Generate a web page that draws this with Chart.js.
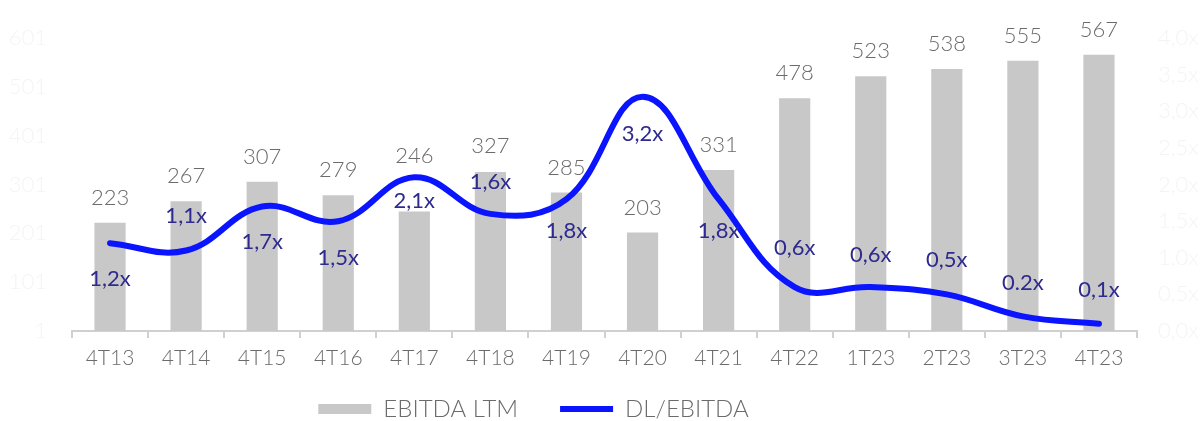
<!DOCTYPE html>
<html>
<head>
<meta charset="utf-8">
<script src="https://cdn.jsdelivr.net/npm/chart.js@4.4.1/dist/chart.umd.min.js"></script>
<style>
  html, body { margin: 0; padding: 0; background: #ffffff; }
  #wrap { width: 1203px; height: 421px; position: relative; }
</style>
</head>
<body>
<div id="wrap"><canvas id="c" width="1203" height="421"></canvas></div>
<script>
// ---- data ----
const categories = ['4T13','4T14','4T15','4T16','4T17','4T18','4T19','4T20','4T21','4T22','1T23','2T23','3T23','4T23'];
const ebitdaLTM = [223, 267, 307, 279, 246, 327, 285, 203, 331, 478, 523, 538, 555, 567];
const dlEbitda = [1.2, 1.1, 1.7, 1.5, 2.1, 1.6, 1.8, 3.2, 1.8, 0.6, 0.6, 0.5, 0.2, 0.1];
const dlEbitdaLabels = ['1,2x','1,1x','1,7x','1,5x','2,1x','1,6x','1,8x','3,2x','1,8x','0,6x','0,6x','0,5x','0.2x','0,1x'];
const leftTicks = [1, 101, 201, 301, 401, 501, 601];
const rightTicks = ['0,0x','0,5x','1,0x','1,5x','2,0x','2,5x','3,0x','3,5x','4,0x'];

// ---- style ----
const FONT = "Lato, 'Open Sans', sans-serif";
const barLabelOffsets = [-25, -25, -25, -25, -56, -26, -25, -25, -25, -25, -25, -25, -25, -25];
const lineLabelOffsets = [36, -35, 35, 37, 24, -32, 32, 37, 32, -39, -32, -34, -33, -34];

const labelPlugin = {
  id: 'valueLabels',
  afterInit(chart) {
    const lg = chart.legend;
    if (lg) {
      const origFit = lg.fit.bind(lg);
      lg.fit = function () { origFit(); this.height = 40; };
    }
  },
  afterLayout(chart) {
    const lg = chart.legend;
    if (lg) { lg.top -= 26; lg.left -= 68; lg.right -= 68; }
  },
  afterDatasetsDraw(chart) {
    const ctx = chart.ctx;
    ctx.save();
    ctx.textAlign = 'center';
    ctx.textBaseline = 'middle';
    ctx.font = "300 22px " + FONT;
    const barMeta = chart.getDatasetMeta(0);
    ctx.fillStyle = '#6b6b6b';
    barMeta.data.forEach((el, i) => {
      ctx.fillText(String(ebitdaLTM[i]), el.x, el.y + barLabelOffsets[i]);
    });
    const lineMeta = chart.getDatasetMeta(1);
    ctx.font = "400 22px " + FONT;
    ctx.fillStyle = '#2e2a8e';
    lineMeta.data.forEach((el, i) => {
      ctx.fillText(dlEbitdaLabels[i], el.x, el.y + lineLabelOffsets[i]);
    });
    ctx.restore();
  }
};

new Chart(document.getElementById('c'), {
  data: {
    labels: categories,
    datasets: [
      {
        type: 'bar',
        label: 'EBITDA LTM',
        data: ebitdaLTM,
        backgroundColor: '#c8c8c8',
        borderWidth: 0,
        barPercentage: 0.41,
        categoryPercentage: 1.0,
        yAxisID: 'y',
        order: 2,
        pointStyle: 'rect'
      },
      {
        type: 'line',
        label: 'DL/EBITDA',
        data: dlEbitda,
        borderColor: '#0a14ff',
        backgroundColor: '#0a14ff',
        borderWidth: 6,
        borderCapStyle: 'round',
        tension: 0.4,
        pointRadius: 0,
        pointHoverRadius: 0,
        fill: false,
        yAxisID: 'y1',
        order: 1,
        pointStyle: 'line'
      }
    ]
  },
  options: {
    responsive: false,
    animation: false,
    events: [],
    layout: { padding: { top: 35, left: 0, right: 0, bottom: 0 } },
    plugins: {
      tooltip: { enabled: false },
      legend: {
        position: 'bottom',
        labels: {
          usePointStyle: true,
          pointStyleWidth: 53,
          boxHeight: 10,
          padding: 42,
          color: '#6b6b6b',
          font: { family: FONT, size: 24, weight: '300' },
          sort: (a, b) => a.datasetIndex - b.datasetIndex
        }
      }
    },
    scales: {
      x: {
        offset: true,
        border: { display: true, color: '#d0d0d0', width: 2 },
        grid: { display: true, offset: true, drawOnChartArea: false, drawTicks: true, tickLength: 7, color: '#d0d0d0', lineWidth: 2 },
        ticks: { color: '#6b6b6b', font: { family: FONT, size: 21, weight: '300' }, padding: 8, maxRotation: 0, autoSkip: false },
        afterFit(scale) { scale.height = 50; }
      },
      y: {
        position: 'left',
        min: 1, max: 601,
        afterBuildTicks(scale) { scale.ticks = leftTicks.map(v => ({ value: v })); },
        border: { display: false },
        grid: { display: false, drawTicks: false },
        ticks: { color: '#f4f4f7', font: { family: FONT, size: 22, weight: '300' }, padding: 25 },
        afterFit(scale) { scale.width = 72; }
      },
      y1: {
        position: 'right',
        min: 0, max: 4,
        afterBuildTicks(scale) { scale.ticks = rightTicks.map((t, i) => ({ value: i * 0.5 })); },
        border: { display: false },
        grid: { display: false, drawTicks: false },
        ticks: { color: '#f4f4f7', font: { family: FONT, size: 22, weight: '300' }, padding: 21,
          callback(v, i) { return rightTicks[i]; } },
        afterFit(scale) { scale.width = 66; }
      }
    }
  },
  plugins: [labelPlugin]
});
</script>
</body>
</html>
